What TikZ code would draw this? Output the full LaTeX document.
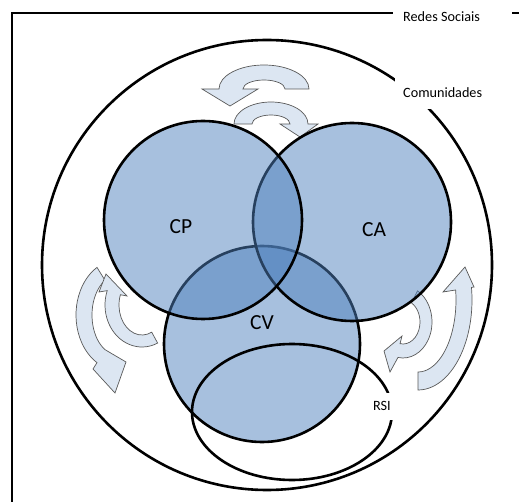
\documentclass[tikz,border=0pt]{standalone}
\usepackage{fontspec}
\setmainfont{Carlito}
\definecolor{setblue}{HTML}{4F81BD}
\definecolor{arrowfill}{HTML}{DCE6F2}
\begin{document}
\begin{tikzpicture}[x=1pt,y=-1pt,
  outline/.style={draw=black,line width=2.6pt},
  setcircle/.style={outline,fill=setblue,fill opacity=0.5},
  flowarrow/.style={draw=black!65,line width=0.7pt,fill=arrowfill,line join=miter},
  setlabel/.style={font=\fontsize{21.5}{25}\selectfont,inner sep=0pt},
  tag/.style={font=\fontsize{14.2}{17}\selectfont,fill=white,inner sep=0pt},
]
\useasboundingbox (0,0) rectangle (519,502);
\clip (0,0) rectangle (519,502);

% outer frame with its title set into the top edge
\draw[outline] (12,530) -- (12,13) -- (393,13);
\draw[outline] (512,13) -- (540,13);
\node[tag,anchor=west] (redes) at (403,17) {Redes Sociais};

% communities circle
\draw[outline] (267,265) circle[radius=225];
\node[tag,anchor=west,inner xsep=8pt,minimum height=32pt] (comm) at (395,93) {Comunidades};

% centres of the curved block arrows
\coordinate (topbig) at (264,89);
\coordinate (topsmall) at (271,124);
\coordinate (leftbig) at (118,315);
\coordinate (leftsmall) at (142,305);
\coordinate (rightbig) at (418,300);
\coordinate (rightsmall) at (403,322);

% top pair
\path[flowarrow] ([shift={(topbig)}]0:45 and 24)
  arc[start angle=0,end angle=-180,x radius=45,y radius=24]
  -- (202,89) -- (230,106) -- (258,89)
  -- ([shift={(topbig)}]-180:21 and 9)
  arc[start angle=-180,end angle=0,x radius=21,y radius=9] -- cycle;
\path[flowarrow] ([shift={(topsmall)}]180:37 and 22)
  arc[start angle=180,end angle=360,x radius=37,y radius=22]
  -- (318,124) -- (300,137) -- (280,124)
  -- ([shift={(topsmall)}]0:19 and 9)
  arc[start angle=360,end angle=180,x radius=19,y radius=9] -- cycle;

% left pair
\path[flowarrow] ([shift={(leftbig)}]240:42 and 55)
  arc[start angle=240,end angle=120,x radius=42,y radius=55]
  -- (93,369) -- (115,393) -- (126,362)
  -- ([shift={(leftbig)}]120:26 and 40)
  arc[start angle=120,end angle=240,x radius=26,y radius=40] -- cycle;
\path[flowarrow] ([shift={(leftsmall)}]65:37 and 42)
  arc[start angle=65,end angle=200,x radius=37,y radius=42]
  -- (99,292) -- (106,274) -- (127,296)
  -- ([shift={(leftsmall)}]200:23 and 30)
  arc[start angle=200,end angle=65,x radius=23,y radius=30] -- cycle;

% right pair
\path[flowarrow] ([shift={(rightbig)}]90:54 and 90)
  arc[start angle=90,end angle=-8,x radius=54,y radius=90]
  -- (474,287) -- (465,267) -- (443,292)
  -- ([shift={(rightbig)}]-8:38 and 72)
  arc[start angle=-8,end angle=90,x radius=38,y radius=72] -- cycle;
\path[flowarrow] ([shift={(rightsmall)}]-60:29 and 36)
  arc[start angle=-60,end angle=100,x radius=29,y radius=36]
  -- (390,372) -- (384,351) -- (402,336)
  -- ([shift={(rightsmall)}]100:17 and 22)
  arc[start angle=100,end angle=-60,x radius=17,y radius=22] -- cycle;

% overlapping sets
\draw[setcircle] (262,344) circle[radius=98];
\draw[setcircle] (352,222) circle[radius=99];
\draw[setcircle] (203,220) circle[radius=99];
\node[setlabel] (cp) at (181,227) {CP};
\node[setlabel] (ca) at (374,230) {CA};
\node[setlabel] (cv) at (262,323) {CV};

% RSI region
\draw[outline] (292,412) ellipse[x radius=100,y radius=68];
\node[tag,minimum height=27pt,inner xsep=5pt] (rsi) at (382,406) {RSI};
\end{tikzpicture}
\end{document}
